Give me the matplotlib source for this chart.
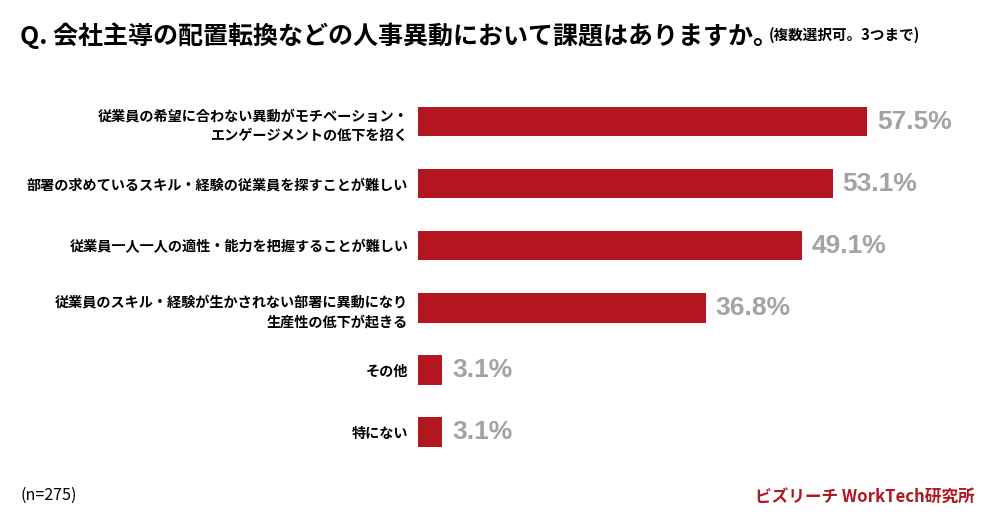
import matplotlib
matplotlib.use("Agg")
import matplotlib.pyplot as plt

plt.rcParams["font.family"] = ["Noto Sans CJK JP", "DejaVu Sans"]

# survey answers, top to bottom
categories = [
    "従業員の希望に合わない異動がモチベーション・\nエンゲージメントの低下を招く",
    "部署の求めているスキル・経験の従業員を探すことが難しい",
    "従業員一人一人の適性・能力を把握することが難しい",
    "従業員のスキル・経験が生かされない部署に異動になり\n生産性の低下が起きる",
    "その他",
    "特にない",
]
values = [57.5, 53.1, 49.1, 36.8, 3.1, 3.1]

TITLE = "Q. 会社主導の配置転換などの人事異動において課題はありますか。"
SUBTITLE = "(複数選択可。3つまで)"
NOTE = "(n=275)"
SOURCE = "ビズリーチ WorkTech研究所"

C_BAR = "#b3161f"
C_VALUE = "#a3a3a3"

fig = plt.figure(figsize=(10, 5.25), dpi=100, facecolor="white")
ax = fig.add_axes([0.418, 0.118, 0.572, 0.709])

pos = list(range(len(categories)))
ax.barh(pos, values, height=0.47, color=C_BAR)
ax.set_ylim(len(categories) - 0.5, -0.5)
ax.set_xlim(0, 73.2)
ax.set_yticks(pos)
ax.set_yticklabels(categories, fontsize=10.2, fontweight="bold",
                   linespacing=1.5, multialignment="right")
ax.tick_params(axis="y", length=0, pad=7)
ax.set_xticks([])
for s in ax.spines.values():
    s.set_visible(False)

for y, v in zip(pos, values):
    ax.annotate(f"{v:.1f}%", xy=(v, y), xytext=(7, 0),
                textcoords="offset points", va="center", ha="left",
                fontsize=19, fontweight="bold", color=C_VALUE,
                family=["Liberation Sans", "DejaVu Sans"])

title = fig.text(0.02, 0.933, TITLE, fontsize=18, fontweight="bold",
                 va="center", ha="left")
ax.annotate(SUBTITLE, xy=(1, 0.2), xycoords=title, xytext=(-7, 0),
            textcoords="offset points", fontsize=10.5, fontweight="bold",
            va="bottom", ha="left", annotation_clip=False)

fig.text(0.02, 0.057, NOTE, fontsize=11.5, va="center", ha="left")
fig.text(0.975, 0.053, SOURCE, fontsize=12, fontweight="bold", color=C_BAR,
         va="center", ha="right")

fig.savefig("out.png", dpi=100, facecolor="white")
